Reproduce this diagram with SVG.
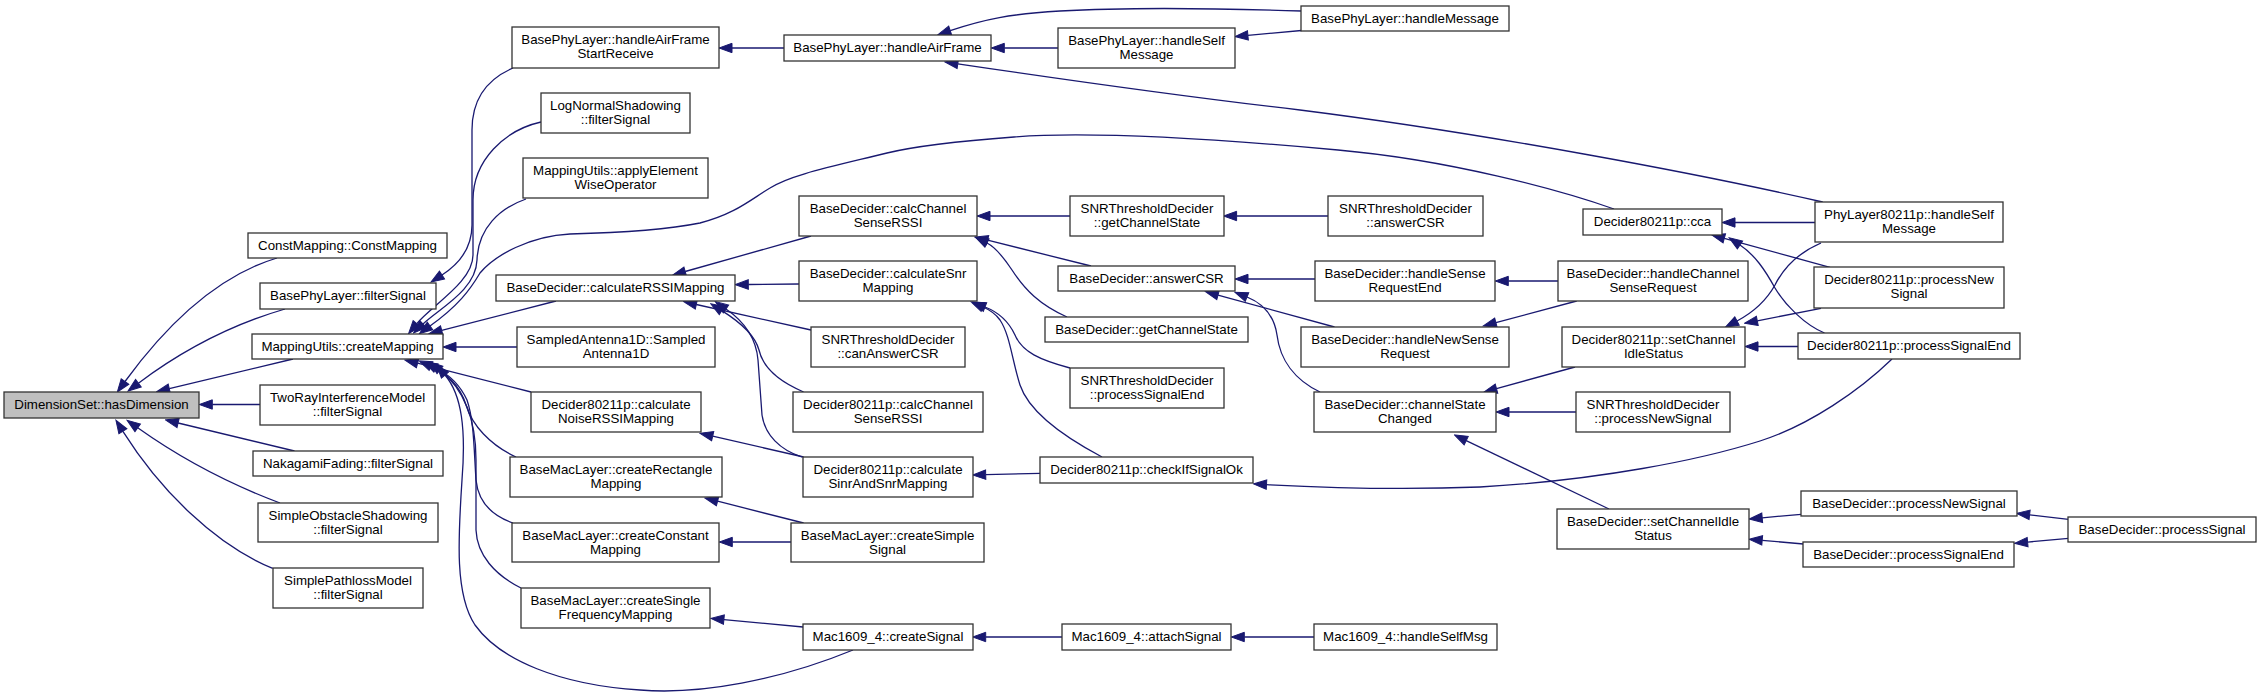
<svg xmlns="http://www.w3.org/2000/svg" width="2261" height="696" viewBox="0 0 2261 696">
<style>
.n rect{fill:#ffffff;stroke:#333333;stroke-width:1.3}
.n.root rect{fill:#bfbfbf}
.n text{font-family:"Liberation Sans",Arial,Helvetica,sans-serif;font-size:13.3px;fill:#000000;text-anchor:middle}
.e path{fill:none;stroke:#191970;stroke-width:1.3;marker-end:url(#ah)}
</style>
<defs>
<marker id="ah" markerUnits="userSpaceOnUse" markerWidth="15" markerHeight="12" viewBox="-1 -6 15 12" refX="0" refY="0" orient="auto">
<path d="M0,-4.7 L13,0 L0,4.7 Z" fill="#191970" stroke="#191970" stroke-width="1"/>
</marker>
</defs>
<rect width="2261" height="696" fill="#ffffff"/>
<g id="edges" class="e">
<path d="M277,258 C220,275 170,320 125,381.5"/>
<path d="M285,309 C230,325 180,352 138.4,383.2"/>
<path d="M293,359 L169.3,388.7"/>
<path d="M260,404.5 L212.3,404.5"/>
<path d="M294.5,451 L178.1,423"/>
<path d="M280,503 C240,488 190,465 137.7,427.8"/>
<path d="M272.7,568.3 C215,545 160,490 122.9,431.3"/>
<path d="M513,68 C485,80 472,100 472,130 L472,225 C472,248 459,264 442,275"/>
<path d="M541,122 C505,130 473,160 473,200 L473,255 C473,282 432,305 416.8,323.6"/>
<path d="M526,199 C500,208 478,228 477,260 C476,290 440,308 423,324"/>
<path d="M1614,209 C1560,190 1450,160 1338,150 C1250,142 1100,130 1014,137 C960,141 920,145 887,153 C830,167 790,175 770,188 C750,200 735,214 700,223 C660,231 610,233 570,234 C530,236 495,255 480,273 C470,290 458,306 430,326"/>
<path d="M556,301 L441.7,330.4"/>
<path d="M517,347 L456,347"/>
<path d="M531,392 L417.6,363.2"/>
<path d="M516,457 C490,445 472,425 466,405 C460,385 445,372 431,366"/>
<path d="M513,523 C490,515 478,500 476,480 C474,450 474,420 467,400 C460,385 450,375 436,368"/>
<path d="M521,588 C495,575 477,555 476,530 L476,460 C476,420 465,390 440,370"/>
<path d="M853,650 C780,680 700,695 640,690 C560,685 500,660 475,625 C455,595 458,540 462,480 C466,430 462,395 445,375"/>
<path d="M784,48 L732,48"/>
<path d="M811,236 L685.2,271.5"/>
<path d="M799,284 L748.3,284.5"/>
<path d="M811,330 L696.3,304.5"/>
<path d="M803.6,392 C780,382 763,368 759,350 C755,335 740,322 721.8,310.6"/>
<path d="M802,457 C780,450 765,435 762,415 L758,360 C756,335 742,320 726,309"/>
<path d="M803.6,457 L712.7,436.2"/>
<path d="M803.6,523 L717.6,501.2"/>
<path d="M791,542 L732.3,542"/>
<path d="M803,627 L723.9,619.6"/>
<path d="M1058,48 L1004.3,48"/>
<path d="M1301.5,11 C1240,9 1130,7 1060,11 C1010,14 985,19 950.2,30.6"/>
<path d="M1301.5,30.5 L1247.9,35.4"/>
<path d="M1822.7,202 C1700,174 1490,134 1300,110 C1170,95 1060,79 957.8,63.8"/>
<path d="M1070,216 L990,216"/>
<path d="M1091,266 L987.6,240.2"/>
<path d="M1067,317 C1040,305 1025,290 1012,270 C1002,255 995,247 987,243"/>
<path d="M1070,368 C1040,360 1022,352 1015,335 C1008,320 998,312 985,307"/>
<path d="M1102,457 C1070,440 1030,415 1020,385 C1012,360 1010,335 1000,320 C995,313 990,310 983,307"/>
<path d="M1040,473.3 L985.7,474.7"/>
<path d="M1062,637 L985.7,637"/>
<path d="M1328.4,216 L1236.6,216"/>
<path d="M1315,279 L1248,279"/>
<path d="M1334.5,327 L1218,295.1"/>
<path d="M1320,392 C1295,380 1280,360 1277,335 C1274,315 1262,303 1247,297"/>
<path d="M1815,222.5 L1735,222.5"/>
<path d="M1830,267.3 L1724.3,238.4"/>
<path d="M1824.5,333 C1805,325 1785,305 1775,288 C1765,270 1755,255 1740,245"/>
<path d="M1558,281 L1508.3,281"/>
<path d="M1576.7,301 L1495.9,322.6"/>
<path d="M1575,367 L1496.5,388.6"/>
<path d="M1576,412 L1509,412"/>
<path d="M1609,509 L1466.2,440.6"/>
<path d="M1821,243 C1800,252 1785,265 1775,285 C1765,303 1752,313 1737,321"/>
<path d="M1821,308.3 L1757.3,320.8"/>
<path d="M1798,346.5 L1758,346.5"/>
<path d="M1892,359 C1860,390 1810,425 1760,441 C1700,460 1600,480 1480,487 C1400,490 1330,488 1266.5,484.6"/>
<path d="M1801,514.3 L1762.2,517.8"/>
<path d="M1803.5,544 L1762.2,540.4"/>
<path d="M2068.5,519.3 L2029.6,514.8"/>
<path d="M2068.5,538.3 L2027.6,542.1"/>
<path d="M1314,637 L1244.3,637"/>
</g>
<g id="n0" class="n root"><rect x="4" y="392" width="195" height="26"/><text x="101.5" y="409">DimensionSet::hasDimension</text></g>
<g id="n1" class="n"><rect x="248" y="233" width="199" height="25"/><text x="347.5" y="250">ConstMapping::ConstMapping</text></g>
<g id="n2" class="n"><rect x="260" y="283" width="176" height="26"/><text x="348" y="300">BasePhyLayer::filterSignal</text></g>
<g id="n3" class="n"><rect x="252" y="334" width="191" height="25"/><text x="347.5" y="351">MappingUtils::createMapping</text></g>
<g id="n4" class="n"><rect x="260" y="385" width="175" height="40"/><text x="347.5" y="401.5">TwoRayInterferenceModel</text><text x="347.5" y="416">::filterSignal</text></g>
<g id="n5" class="n"><rect x="253" y="451" width="190" height="25"/><text x="348" y="468">NakagamiFading::filterSignal</text></g>
<g id="n6" class="n"><rect x="258" y="503" width="180" height="39"/><text x="348" y="519.5">SimpleObstacleShadowing</text><text x="348" y="534">::filterSignal</text></g>
<g id="n7" class="n"><rect x="273" y="568" width="150" height="40"/><text x="348" y="584.5">SimplePathlossModel</text><text x="348" y="599">::filterSignal</text></g>
<g id="n8" class="n"><rect x="512" y="27" width="207" height="41"/><text x="615.5" y="43.5">BasePhyLayer::handleAirFrame</text><text x="615.5" y="58">StartReceive</text></g>
<g id="n9" class="n"><rect x="541" y="93" width="149" height="40"/><text x="615.5" y="109.5">LogNormalShadowing</text><text x="615.5" y="124">::filterSignal</text></g>
<g id="n10" class="n"><rect x="523" y="158" width="185" height="40"/><text x="615.5" y="174.5">MappingUtils::applyElement</text><text x="615.5" y="189">WiseOperator</text></g>
<g id="n11" class="n"><rect x="496" y="275" width="239" height="26"/><text x="615.5" y="292">BaseDecider::calculateRSSIMapping</text></g>
<g id="n12" class="n"><rect x="517" y="327" width="198" height="40"/><text x="616" y="343.5">SampledAntenna1D::Sampled</text><text x="616" y="358">Antenna1D</text></g>
<g id="n13" class="n"><rect x="531" y="392" width="170" height="40"/><text x="616" y="408.5">Decider80211p::calculate</text><text x="616" y="423">NoiseRSSIMapping</text></g>
<g id="n14" class="n"><rect x="510" y="457" width="212" height="40"/><text x="616" y="473.5">BaseMacLayer::createRectangle</text><text x="616" y="488">Mapping</text></g>
<g id="n15" class="n"><rect x="512" y="523" width="207" height="39"/><text x="615.5" y="539.5">BaseMacLayer::createConstant</text><text x="615.5" y="554">Mapping</text></g>
<g id="n16" class="n"><rect x="521" y="588" width="189" height="40"/><text x="615.5" y="604.5">BaseMacLayer::createSingle</text><text x="615.5" y="619">FrequencyMapping</text></g>
<g id="n17" class="n"><rect x="784" y="35" width="207" height="26"/><text x="887.5" y="52">BasePhyLayer::handleAirFrame</text></g>
<g id="n18" class="n"><rect x="799" y="196" width="178" height="40"/><text x="888" y="212.5">BaseDecider::calcChannel</text><text x="888" y="227">SenseRSSI</text></g>
<g id="n19" class="n"><rect x="799" y="261" width="178" height="40"/><text x="888" y="277.5">BaseDecider::calculateSnr</text><text x="888" y="292">Mapping</text></g>
<g id="n20" class="n"><rect x="811" y="327" width="154" height="40"/><text x="888" y="343.5">SNRThresholdDecider</text><text x="888" y="358">::canAnswerCSR</text></g>
<g id="n21" class="n"><rect x="793" y="392" width="190" height="40"/><text x="888" y="408.5">Decider80211p::calcChannel</text><text x="888" y="423">SenseRSSI</text></g>
<g id="n22" class="n"><rect x="803" y="457" width="170" height="40"/><text x="888" y="473.5">Decider80211p::calculate</text><text x="888" y="488">SinrAndSnrMapping</text></g>
<g id="n23" class="n"><rect x="791" y="523" width="193" height="39"/><text x="887.5" y="539.5">BaseMacLayer::createSimple</text><text x="887.5" y="554">Signal</text></g>
<g id="n24" class="n"><rect x="803" y="624" width="170" height="26"/><text x="888" y="641">Mac1609_4::createSignal</text></g>
<g id="n25" class="n"><rect x="1058" y="28" width="177" height="40"/><text x="1146.5" y="44.5">BasePhyLayer::handleSelf</text><text x="1146.5" y="59">Message</text></g>
<g id="n26" class="n"><rect x="1070" y="196" width="154" height="40"/><text x="1147" y="212.5">SNRThresholdDecider</text><text x="1147" y="227">::getChannelState</text></g>
<g id="n27" class="n"><rect x="1058" y="266" width="177" height="25"/><text x="1146.5" y="283">BaseDecider::answerCSR</text></g>
<g id="n28" class="n"><rect x="1045" y="317" width="203" height="25"/><text x="1146.5" y="334">BaseDecider::getChannelState</text></g>
<g id="n29" class="n"><rect x="1070" y="368" width="154" height="40"/><text x="1147" y="384.5">SNRThresholdDecider</text><text x="1147" y="399">::processSignalEnd</text></g>
<g id="n30" class="n"><rect x="1040" y="457" width="213" height="26"/><text x="1146.5" y="474">Decider80211p::checkIfSignalOk</text></g>
<g id="n31" class="n"><rect x="1062" y="624" width="169" height="26"/><text x="1146.5" y="641">Mac1609_4::attachSignal</text></g>
<g id="n32" class="n"><rect x="1301" y="6" width="208" height="25"/><text x="1405" y="23">BasePhyLayer::handleMessage</text></g>
<g id="n33" class="n"><rect x="1328" y="196" width="155" height="40"/><text x="1405.5" y="212.5">SNRThresholdDecider</text><text x="1405.5" y="227">::answerCSR</text></g>
<g id="n34" class="n"><rect x="1315" y="261" width="180" height="40"/><text x="1405" y="277.5">BaseDecider::handleSense</text><text x="1405" y="292">RequestEnd</text></g>
<g id="n35" class="n"><rect x="1301" y="327" width="208" height="40"/><text x="1405" y="343.5">BaseDecider::handleNewSense</text><text x="1405" y="358">Request</text></g>
<g id="n36" class="n"><rect x="1314" y="392" width="182" height="40"/><text x="1405" y="408.5">BaseDecider::channelState</text><text x="1405" y="423">Changed</text></g>
<g id="n37" class="n"><rect x="1314" y="624" width="183" height="26"/><text x="1405.5" y="641">Mac1609_4::handleSelfMsg</text></g>
<g id="n38" class="n"><rect x="1583" y="209" width="139" height="26"/><text x="1652.5" y="226">Decider80211p::cca</text></g>
<g id="n39" class="n"><rect x="1558" y="261" width="190" height="40"/><text x="1653" y="277.5">BaseDecider::handleChannel</text><text x="1653" y="292">SenseRequest</text></g>
<g id="n40" class="n"><rect x="1562" y="327" width="183" height="40"/><text x="1653.5" y="343.5">Decider80211p::setChannel</text><text x="1653.5" y="358">IdleStatus</text></g>
<g id="n41" class="n"><rect x="1576" y="392" width="154" height="40"/><text x="1653" y="408.5">SNRThresholdDecider</text><text x="1653" y="423">::processNewSignal</text></g>
<g id="n42" class="n"><rect x="1557" y="509" width="192" height="40"/><text x="1653" y="525.5">BaseDecider::setChannelIdle</text><text x="1653" y="540">Status</text></g>
<g id="n43" class="n"><rect x="1815" y="202" width="188" height="40"/><text x="1909" y="218.5">PhyLayer80211p::handleSelf</text><text x="1909" y="233">Message</text></g>
<g id="n44" class="n"><rect x="1814" y="267" width="190" height="41"/><text x="1909" y="283.5">Decider80211p::processNew</text><text x="1909" y="298">Signal</text></g>
<g id="n45" class="n"><rect x="1798" y="333" width="222" height="26"/><text x="1909" y="350">Decider80211p::processSignalEnd</text></g>
<g id="n46" class="n"><rect x="1801" y="491" width="216" height="25"/><text x="1909" y="508">BaseDecider::processNewSignal</text></g>
<g id="n47" class="n"><rect x="1803" y="542" width="211" height="25"/><text x="1908.5" y="559">BaseDecider::processSignalEnd</text></g>
<g id="n48" class="n"><rect x="2068" y="517" width="188" height="25"/><text x="2162" y="534">BaseDecider::processSignal</text></g>
</svg>
